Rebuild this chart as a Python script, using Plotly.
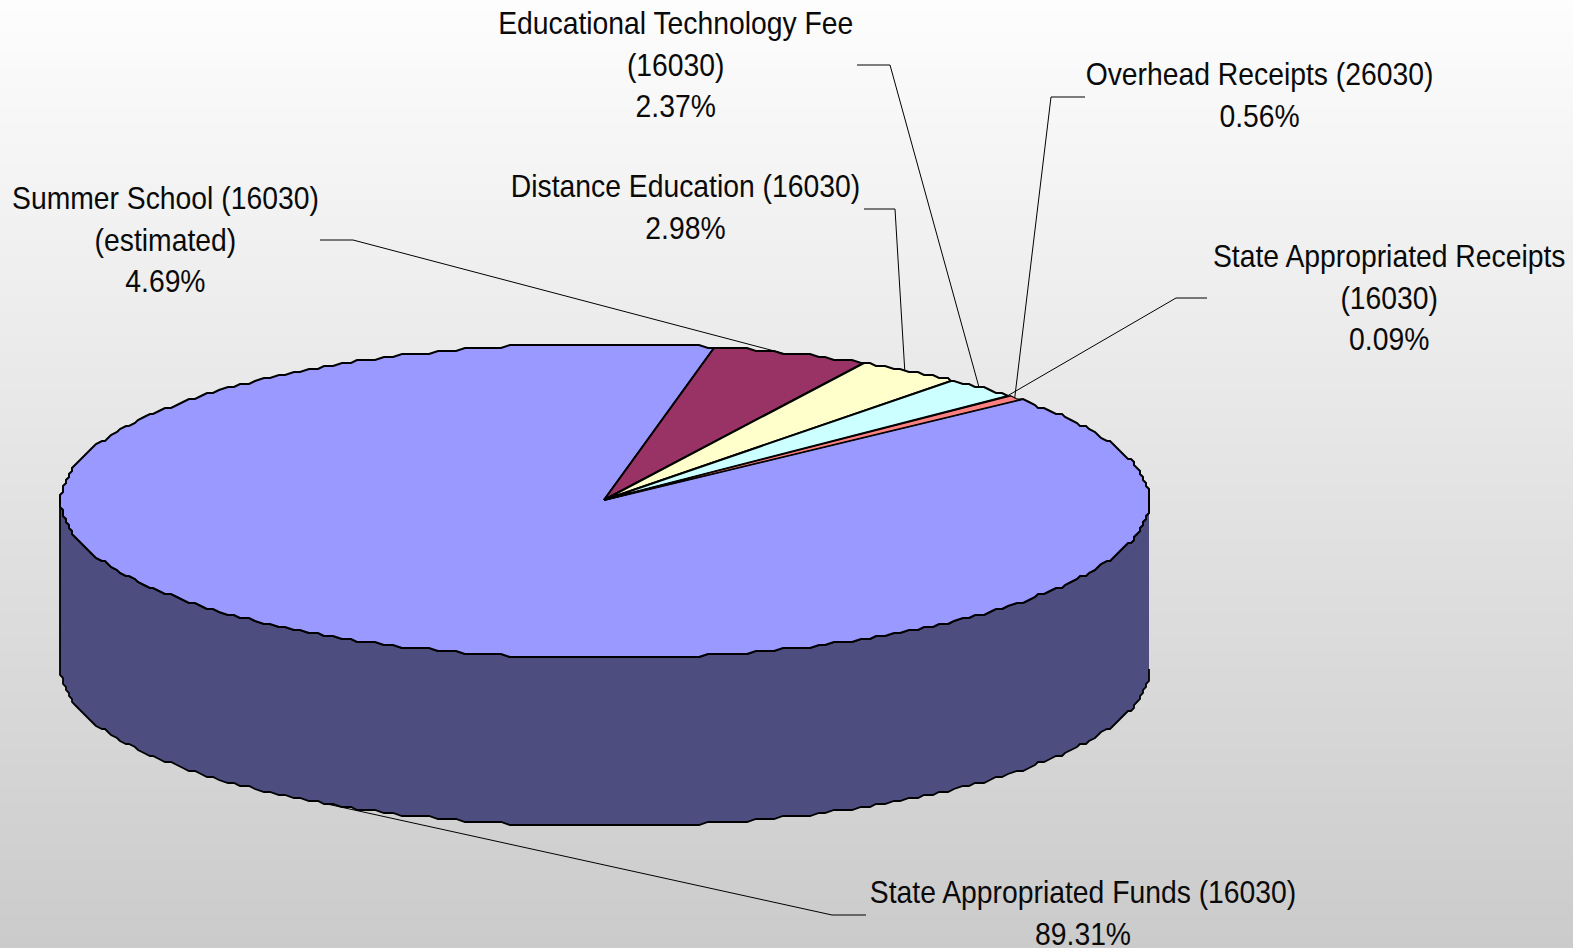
import math
import plotly.graph_objects as go

# ---- data (clockwise order starting from the State Appropriated Funds slice) ----
names = ["State Appropriated Funds (16030)", "Summer School (16030)<br>(estimated)",
         "Distance Education (16030)", "Educational Technology Fee<br>(16030)",
         "State Appropriated Receipts<br>(16030)", "Overhead Receipts (26030)"]
shares = [89.31, 4.69, 2.98, 2.37, 0.09, 0.56]
colors = ["#9999FF", "#993366", "#FFFFCC", "#CCFFFF", "#660066", "#FF8080"]
wall_color = "#4D4D80"

# ---- layout of the pseudo-3D pie (page pixels) ----
W, H = 1573, 948
CX, CY, RX, RY, DEPTH = 605, 501, 544, 157, 168
FIRST_SMALL_SLICE_DEG = 11.7   # angle clockwise from top where the 2nd slice begins
GRID = 3.0                     # coarse device grid of the original rendering
ARC_STEP = 1.0

label_pos = [(1083, 913), (165, 239), (685, 206.5), (675, 64.5), (1389, 297), (1259, 95)]
elbows = [[(866, 915), (832, 915)], [(320, 240), (353, 240)], [(864, 209), (895, 209)],
          [(857, 65), (890, 65)], [(1207, 298), (1176, 298)], [(1085, 97), (1051, 97)]]
tip_shift = [0, -8, -4, -1, -2, -2]
slice_lw = [2.0, 2.0, 2.0, 2.0, 1.0, 1.2]


def rim(deg, dz=0.0, snap=True):
    a = math.radians(deg)
    x, y = CX + RX * math.sin(a), CY - RY * math.cos(a) + dz
    if snap:
        x, y = round(x / GRID) * GRID, round(y / GRID) * GRID
    return x, y


def arc(a0, a1, dz=0.0):
    k0, k1 = math.ceil(a0 / ARC_STEP), math.floor(a1 / ARC_STEP)
    angs = [a0] + [k * ARC_STEP for k in range(k0, k1 + 1)] + [a1]
    return [rim(t, dz) for t in angs]


# slice angles, from the shares
total = sum(shares)
spans = [s / total * 360 for s in shares]
a = FIRST_SMALL_SLICE_DEG
order = [1, 2, 3, 4, 5, 0]
ang = {}
for i in order:
    ang[i] = (a, a + spans[i])
    a += spans[i]

fig = go.Figure()

# background gradient
rows = 170
fig.add_trace(go.Heatmap(
    x=[0, W], y=[H * (r + 0.5) / rows for r in range(rows)],
    z=[[r, r] for r in range(rows)],
    colorscale=[[0, "#FDFDFD"], [1, "#CBCBCB"]],
    showscale=False, hoverinfo="skip", xgap=0, ygap=0))


def poly(pts, fill, lw=2.0):
    fig.add_trace(go.Scatter(
        x=[p[0] for p in pts], y=[p[1] for p in pts], mode="lines", fill="toself",
        fillcolor=fill, line=dict(color="#000000", width=lw, shape="linear", simplify=False),
        hoverinfo="skip", showlegend=False))


# wall (front half)
poly(arc(90, 270) + arc(90, 270, DEPTH)[::-1], wall_color, 1.8)

# top faces
for i in [0, 1, 2, 3, 4, 5]:
    a0, a1 = ang[i]
    poly([(CX - 1, CY - 1)] + arc(a0, a1) + [(CX - 1, CY - 1)], colors[i], slice_lw[i])

# leaders and labels
for i, name in enumerate(names):
    a0, a1 = ang[i]
    mid = (a0 + a1) / 2
    tx, ty = rim(mid, DEPTH if i == 0 else 0, snap=False)
    pts = elbows[i] + [(tx + tip_shift[i], ty)]
    fig.add_trace(go.Scatter(
        x=[p[0] for p in pts], y=[p[1] for p in pts], mode="lines",
        line=dict(color="#000000", width=1), hoverinfo="skip", showlegend=False))
    fig.add_annotation(
        x=label_pos[i][0], y=label_pos[i][1], xref="x", yref="y", showarrow=False,
        text=f"{name}<br>{shares[i]:.2f}%", align="center", xanchor="center", yanchor="middle",
        font=dict(family="Liberation Sans, Arial, sans-serif", size=32, color="#0a0a0a"))

fig.update_layout(
    width=W, height=H, margin=dict(l=0, r=0, t=0, b=0),
    paper_bgcolor="#E5E5E5", plot_bgcolor="rgba(0,0,0,0)", showlegend=False,
    xaxis=dict(range=[0, W], visible=False, fixedrange=True),
    yaxis=dict(range=[H, 0], visible=False, fixedrange=True))

# The reference's labels use a horizontally condensed face; condense the real text.
post = """
document.body.style.margin = '0';
document.documentElement.style.overflow = 'hidden';
function condense() {
  document.querySelectorAll('text.annotation-text').forEach(function (t) {
    t.style.transformBox = 'fill-box';
    t.style.transformOrigin = 'center';
    t.style.transform = 'scaleX(0.885)';
  });
}
condense();
setTimeout(condense, 0);
setTimeout(condense, 200);
"""
fig.write_html("out.html", config={"displayModeBar": False}, post_script=post)
